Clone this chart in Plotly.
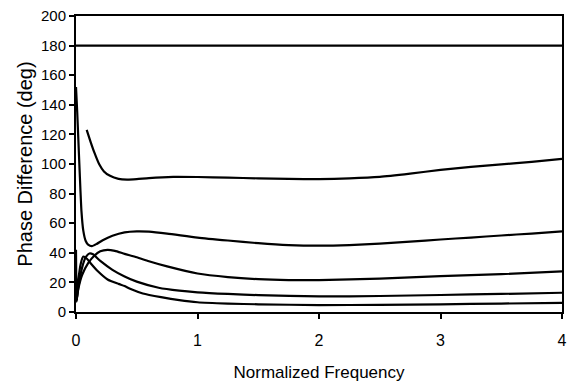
import plotly.graph_objects as go

# Reference line
ref_x = [0, 4]
ref_y = [180, 180]

# Curve A (top, ~90 deg)
a_x = [0.088, 0.12, 0.15, 0.19, 0.23, 0.28, 0.35, 0.42, 0.5, 0.6, 0.8, 1.0, 1.25, 1.5, 1.75, 2.0, 2.25, 2.5, 2.75, 3.0, 3.25, 3.5, 3.75, 4.0]
a_y = [123, 115, 108, 100, 95, 92, 90, 89.5, 89.8, 90.5, 91.3, 91.2, 90.8, 90.3, 89.9, 89.8, 90.3, 91.3, 93.5, 96, 98, 99.7, 101.5, 103.5]

# Curve B (~45-55 deg)
b_x = [0, 0.01, 0.02, 0.03, 0.045, 0.06, 0.08, 0.1, 0.13, 0.17, 0.22, 0.3, 0.4, 0.5, 0.6, 0.75, 1.0, 1.25, 1.5, 1.75, 2.0, 2.25, 2.5, 2.75, 3.0, 3.25, 3.5, 3.75, 4.0]
b_y = [152, 135, 115, 95, 68, 55, 48, 45.5, 44.5, 46, 48.5, 51.5, 53.8, 54.5, 54.3, 53, 50.3, 48.3, 46.5, 45.2, 44.8, 45.2, 46.2, 47.5, 49, 50.3, 51.7, 53, 54.5]

# Curve C (peak ~42)
c_x = [0.005, 0.02, 0.05, 0.1, 0.15, 0.2, 0.26, 0.32, 0.4, 0.5, 0.6, 0.75, 1.0, 1.25, 1.5, 1.75, 2.0, 2.5, 3.0, 3.5, 4.0]
c_y = [8, 16, 25, 33, 38, 41, 42, 41.3, 39.3, 37, 34.3, 30.8, 26, 23.6, 22.2, 21.6, 21.6, 22.5, 24.2, 25.6, 27.4]

# Curve D (peak ~39.5)
d_x = [0.005, 0.02, 0.05, 0.08, 0.11, 0.14, 0.2, 0.3, 0.4, 0.5, 0.68, 0.85, 1.0, 1.25, 1.5, 2.0, 2.5, 3.0, 3.5, 4.0]
d_y = [8, 17, 30, 37, 39.5, 39, 34.5, 28.5, 24, 20.5, 16.4, 14.4, 13.3, 12.2, 11.4, 10.5, 10.8, 11.5, 12.2, 13]

# Curve E (peak ~37.5)
e_x = [0, 0.006, 0.02, 0.04, 0.06, 0.09, 0.12, 0.18, 0.26, 0.35, 0.4, 0.45, 0.55, 0.7, 0.85, 1.0, 1.25, 1.5, 2.0, 2.5, 3.0, 3.5, 4.0]
e_y = [42, 7, 22, 33, 37.5, 36, 33, 27.5, 22, 19, 17.5, 15.5, 12.5, 10, 8, 6.6, 5.7, 5.2, 4.7, 4.8, 5.2, 5.7, 6.2]

x_tickvals = [0, 1, 2, 3, 4]
y_tickvals = [0, 20, 40, 60, 80, 100, 120, 140, 160, 180, 200]

FONT = "Liberation Sans, Arial, Helvetica, sans-serif"

fig = go.Figure()
for xs, ys in [(ref_x, ref_y), (a_x, a_y), (b_x, b_y), (c_x, c_y), (d_x, d_y), (e_x, e_y)]:
    fig.add_trace(go.Scatter(
        x=xs, y=ys, mode="lines",
        line=dict(color="black", width=2.2, shape="spline", smoothing=0.6),
        showlegend=False, hoverinfo="skip",
    ))

fig.update_layout(
    width=578, height=390,
    margin=dict(l=76, r=16, t=7, b=78),
    paper_bgcolor="white", plot_bgcolor="white",
    font=dict(family=FONT, color="black", size=15),
    showlegend=False,
)
fig.update_xaxes(
    range=[0, 4], tickvals=x_tickvals, ticktext=[str(v) for v in x_tickvals],
    showgrid=False, zeroline=False,
    showline=True, linecolor="black", linewidth=2, mirror=True,
    ticks="outside", ticklen=5, tickwidth=1.5, tickcolor="black",
    ticklabelstandoff=8,
    tickfont=dict(size=16),
    title=dict(text="Normalized Frequency", font=dict(size=17), standoff=18),
)
fig.update_yaxes(
    range=[0, 200], tickvals=y_tickvals, ticktext=[str(v) for v in y_tickvals],
    showgrid=False, zeroline=False,
    showline=True, linecolor="black", linewidth=2, mirror=True,
    ticks="outside", ticklen=5, tickwidth=1.5, tickcolor="black",
    tickfont=dict(size=15),
    title=dict(text="Phase Difference (deg)", font=dict(size=20), standoff=3),
)

fig.write_html("out.html")
